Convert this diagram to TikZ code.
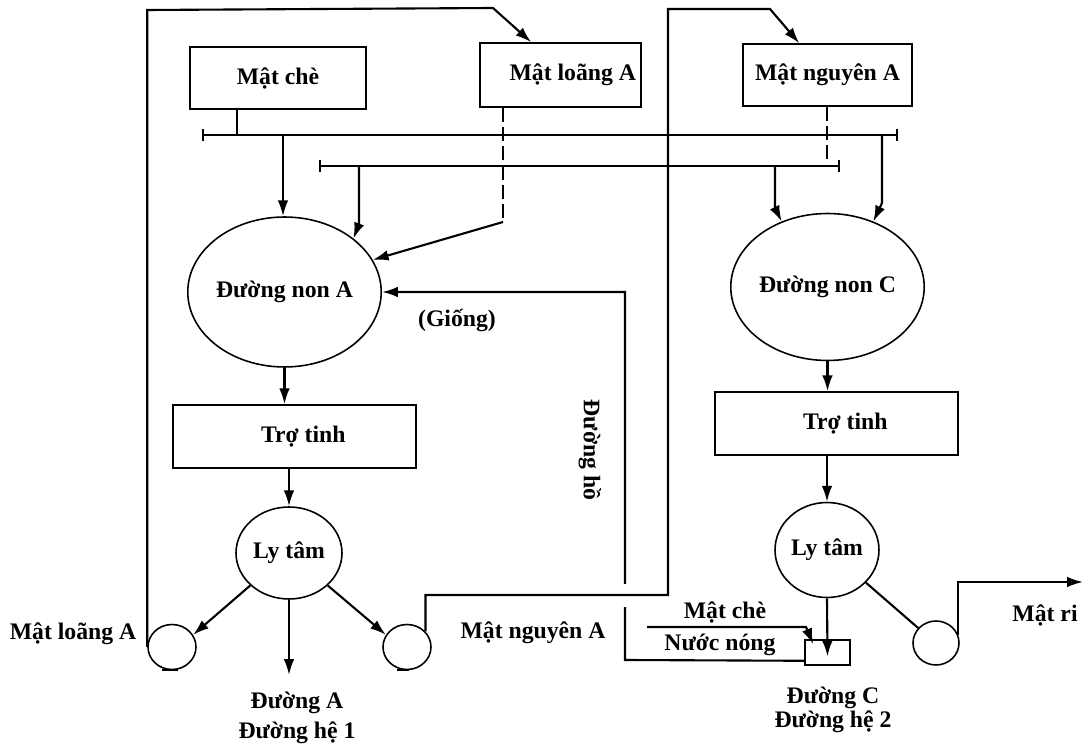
\documentclass[tikz,border=0pt]{standalone}
\usepackage{fontspec}
\setmainfont{Liberation Serif}
\usetikzlibrary{arrows.meta,calc,shapes.geometric}
\begin{document}
\begin{tikzpicture}[x=0.02cm,y=-0.02cm,
  every node/.style={font=\bfseries\fontsize{13.5}{15}\selectfont},
  box/.style={draw, line width=0.9pt, rectangle, inner sep=0pt},
  oval/.style={draw, line width=0.9pt, ellipse, inner sep=0pt},
  ln/.style={line width=1.2pt},
  arr/.style={ln, -{Latex[length=9pt,width=6pt]}},
  bars/.style={ln, {Bar[width=7pt]}-{Bar[width=7pt]}},
  dsh/.style={ln, dash pattern=on 8pt off 3pt},
  txt/.style={inner sep=0pt}
]
\useasboundingbox (0,0) rectangle (1083,746);

% boxes
\node[box, minimum width=3.52cm, minimum height=1.24cm] (mche) at (278,78) {Mật chè};
\node[box, minimum width=3.22cm, minimum height=1.28cm] (mla) at (560.5,75) {\hspace*{14pt}Mật loãng A};
\node[box, minimum width=3.38cm, minimum height=1.24cm] (mna) at (827.5,75) {Mật nguyên A};

% big ovals
\node[oval, minimum width=3.38cm, minimum height=3.0cm] (A) at (284.5,292) {Đường non A};
\node[oval, minimum width=3.4cm, minimum height=2.94cm] (C) at (827.5,287) {Đường non C};

% Tro tinh
\node[box, minimum width=4.86cm, minimum height=1.26cm] (ttA) at (294.5,436.5) {\hspace*{10pt}Trợ tinh};
\node[box, minimum width=4.86cm, minimum height=1.26cm] (ttC) at (836.5,423.5) {\hspace*{10pt}Trợ tinh};

% Ly tam
\node[oval, minimum width=2.12cm, minimum height=1.84cm] (lyA) at (289,553) {Ly tâm};
\node[oval, minimum width=2.08cm, minimum height=1.9cm] (lyC) at (827,550) {Ly tâm};

% small collectors
\node[oval, minimum width=0.96cm, minimum height=0.9cm] (sL) at (172,647) {};
\node[oval, minimum width=0.96cm, minimum height=0.9cm] (sR) at (407,647) {};
\node[oval, minimum width=0.92cm, minimum height=0.88cm] (sC) at (936,643) {};
\draw[ln] ($(sL.south)+(-10,0)$) -- ($(sL.south)+(6,0)$);
\draw[ln] ($(sR.south)+(-10,0)$) -- ($(sR.south)+(2,0)$);

% mixer
\node[box, minimum width=0.9cm, minimum height=0.5cm] (mix) at (827.5,652.5) {};

% labels
\node[txt] (lMLA) at (73,634) {Mật loãng A};
\node[txt] (lMNA) at (533,633) {Mật nguyên A};
\node[txt, align=center] (lDA) at (297,718) {Đường A\\[2pt]Đường hệ 1};
\node[txt, align=center] (lDC) at (833,710) {Đường C\\[-1pt]Đường hệ 2};
\node[txt] (lG) at (457,320) {(Giống)};
\node[txt, rotate=-90] (lDH) at (590,450) {Đường hồ};
\node[txt] (lMC) at (725,612) {Mật chè};
\node[txt] (lNN) at (720,645) {Nước nóng};
\node[txt] (lMR) at (1045,615) {Mật ri};

% header lines
\coordinate (L1a) at (202,135);
\coordinate (L1b) at (898,135);
\coordinate (L2a) at (319,166);
\coordinate (L2b) at (840,166);
\draw[bars] (L1a) -- (L1b);
\draw[bars] (L2a) -- (L2b);

% stubs
\coordinate (s1) at (237,135);
\draw[ln] (mche.south -| s1) -- (s1);
\coordinate (d1) at (503,222);
\draw[dsh] (mla.south -| d1) -- (d1);
\draw[arr] (d1) -- (A.20);
\coordinate (s2) at (827,166);
\draw[dsh] (mna.south -| s2) -- (s2);

% feeds to A
\coordinate (a1) at (283,135);
\draw[arr] (a1) -- (a1 |- A.north);
\coordinate (a2) at (359,166);
\draw[arr] (a2) -- ++(0,58) -- (A.north east);

% feeds to C
\coordinate (c1) at (775,166);
\draw[arr] (c1) -- ++(0,42) -- (C.125);
\coordinate (c2) at (882,135);
\draw[arr] (c2) -- ++(0,68) -- (C.55);

% left chain
\draw[arr] (A.south) -- (A.south |- ttA.north);
\draw[arr] (ttA.south -| lyA) -- (lyA.north);
\draw[arr] (lyA.220) -- (sL.30);
\coordinate (dA) at (289,675);
\draw[arr] (lyA.south) -- (dA);
\draw[arr] (lyA.-40) -- (sR.150);

% right chain
\draw[arr] (C.south) -- (C.south |- ttC.north);
\draw[arr] (ttC.south -| lyC) -- (lyC.north);
\draw[arr] (lyC.south) -- ($(mix.center)+(0,4)$);
\draw[ln] (lyC.-40) -- (sC.140);
\coordinate (o1) at (1083,582);
\draw[arr] (sC.20) |- (o1);

% Mat che / Nuoc nong feed
\coordinate (n1) at (647,627);
\draw[arr] (n1) -- (806,627) -- ($(mix.north west)+(9,5)$);

% left loop: Mat loang A back to its box
\coordinate (t1) at (145,10);
\coordinate (t2) at (493,8);
\draw[arr] (sL.west) -- (sL.west |- t1) -- (t2) -- ($(mla.north west)+(52,0)$);

% Giong / Duong ho return
\coordinate (g1) at (625,660);
\draw[arr] ($(mix.south west)+(0,-5)$) -- (g1) -- (g1 |- A.east) -- (A.east);
\fill[white] (618,584) rectangle (633,607);

% right loop: Mat nguyen A back to its box
\coordinate (r1) at (668,595);
\coordinate (r2) at (668,9);
\coordinate (r3) at (770,9);
\draw[arr] (sR.40) |- (r1) -- (r2) -- (r3) -- ($(mna.north west)+(57,0)$);

\end{tikzpicture}
\end{document}
